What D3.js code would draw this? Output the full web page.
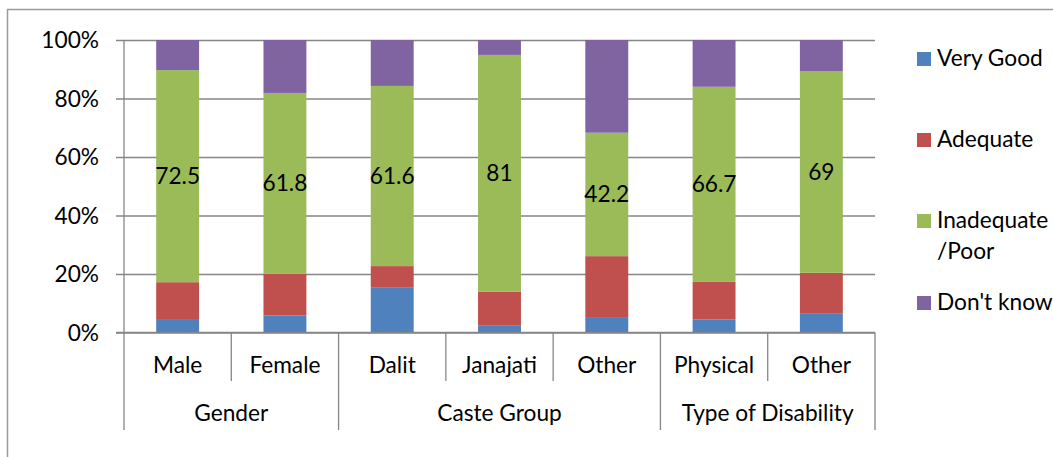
<!DOCTYPE html>
<html>
<head>
<meta charset="utf-8">
<script src="https://cdn.jsdelivr.net/npm/d3@7"></script>
<style>
  html, body { margin: 0; padding: 0; background: #fff; }
  svg { display: block; }
  text { font-family: Lato, "Open Sans", sans-serif; fill: #000; }
</style>
</head>
<body>
<svg id="chart" width="1053" height="457"></svg>
<script>
// ---- data ----
const categories = ["Male", "Female", "Dalit", "Janajati", "Other", "Physical", "Other"];
const groups = ["Gender", "Caste Group", "Type of Disability"];
const groupSizes = [2, 3, 2];
const seriesNames = ["Very Good", "Adequate", "Inadequate /Poor", "Don't know"];
const veryGood   = [4.6, 5.8, 15.3, 2.3, 5.0, 4.4, 6.6];
const adequate   = [12.6, 14.3, 7.4, 11.6, 21.1, 12.9, 13.8];
const inadequate = [72.5, 61.8, 61.6, 81, 42.2, 66.7, 69];
const dontKnow   = [10.3, 18.1, 15.7, 5.1, 31.7, 16.0, 10.6];
const yTicks = [0, 20, 40, 60, 80, 100];
const colors = ["#4F81BD", "#C0504D", "#9BBB59", "#8064A2"];

const svg = d3.select("#chart");
const W = 1053, H = 457;
const pLeft = 124, pRight = 875, pTop = 40, pBottom = 332.5;
const gridColor = "#868686";
const fs = 22.7;

// outer frame
svg.append("rect").attr("x", 7.5).attr("y", 9.5).attr("width", W + 10).attr("height", H + 10)
  .attr("fill", "none").attr("stroke", "#9a9a9a").attr("stroke-width", 1.5);

const keys = categories.map((c, i) => i);
const x = d3.scaleBand().domain(keys).range([pLeft, pRight]).paddingInner(0.6).paddingOuter(0.3);
const y = d3.scaleLinear().domain([0, 100]).range([pBottom, pTop]);

// gridlines + y axis
const yAxis = d3.axisLeft(y).tickValues(yTicks).tickSize(-(pRight - pLeft)).tickFormat(d => d + "%").tickPadding(25);
const gy = svg.append("g").attr("transform", `translate(${pLeft},0)`).call(yAxis);
gy.select(".domain").remove();
gy.selectAll(".tick line").attr("stroke", gridColor).attr("stroke-width", 1.3).attr("x1", -8);
gy.selectAll(".tick text").attr("font-size", fs).attr("font-family", "Lato").attr("fill", "#000").attr("dy", "0.35em");

// y axis line
svg.append("line").attr("x1", pLeft).attr("x2", pLeft).attr("y1", pTop).attr("y2", pBottom)
  .attr("stroke", gridColor).attr("stroke-width", 1.3);

// stacked data
const rows = keys.map(i => ({ i, v: [veryGood[i], adequate[i], inadequate[i], dontKnow[i]] }));
const stack = d3.stack().keys([0, 1, 2, 3]).value((d, k) => d.v[k]);
const stacked = stack(rows);

svg.append("g").selectAll("g").data(stacked).join("g")
  .attr("fill", (d, k) => colors[k])
  .selectAll("rect").data(d => d).join("rect")
  .attr("x", d => x(d.data.i))
  .attr("width", x.bandwidth())
  .attr("y", d => y(Math.min(d[1], 100)))
  .attr("height", d => y(d[0]) - y(Math.min(d[1], 100)));

// labels on inadequate segment
svg.append("g").selectAll("text").data(stacked[2]).join("text")
  .attr("x", d => x(d.data.i) + x.bandwidth() / 2)
  .attr("y", d => (y(d[0]) + y(d[1])) / 2)
  .attr("dy", "0.35em")
  .attr("text-anchor", "middle")
  .attr("font-size", fs)
  .text(d => inadequate[d.data.i]);

// redraw baseline over bars
svg.append("line").attr("x1", pLeft - 8).attr("x2", pRight).attr("y1", pBottom).attr("y2", pBottom)
  .attr("stroke", gridColor).attr("stroke-width", 1.3);

// category axis
const step = x.step();
const catBottom = 381, groupBottom = 430;
const boundaries = d3.range(categories.length + 1).map(k => pLeft + k * step);
let groupEdges = [0];
groupSizes.forEach(s => groupEdges.push(groupEdges[groupEdges.length - 1] + s));
boundaries.forEach((bx, k) => {
  const isGroupEdge = groupEdges.includes(k);
  svg.append("line").attr("x1", bx).attr("x2", bx).attr("y1", pBottom)
    .attr("y2", isGroupEdge ? groupBottom : catBottom)
    .attr("stroke", gridColor).attr("stroke-width", 1.3);
});
svg.append("g").selectAll("text").data(keys).join("text")
  .attr("x", i => x(i) + x.bandwidth() / 2)
  .attr("y", 373)
  .attr("text-anchor", "middle")
  .attr("font-size", fs)
  .text(i => categories[i]);
svg.append("g").selectAll("text").data(groups).join("text")
  .attr("x", (g, k) => pLeft + (groupEdges[k] + groupEdges[k + 1]) / 2 * step)
  .attr("y", 421)
  .attr("text-anchor", "middle")
  .attr("font-size", fs)
  .text(g => g);

// legend
const legendY = [66, 147, 228, 310];
const lg = svg.append("g");
seriesNames.forEach((name, k) => {
  lg.append("rect").attr("x", 917).attr("y", legendY[k] - 14).attr("width", 14).attr("height", 14).attr("fill", colors[k]);
  const parts = name === "Inadequate /Poor" ? ["Inadequate", "/Poor"] : [name];
  parts.forEach((p, j) => {
    lg.append("text").attr("x", 937).attr("y", legendY[k] + j * 31).attr("font-size", fs).text(p);
  });
});
</script>
</body>
</html>
